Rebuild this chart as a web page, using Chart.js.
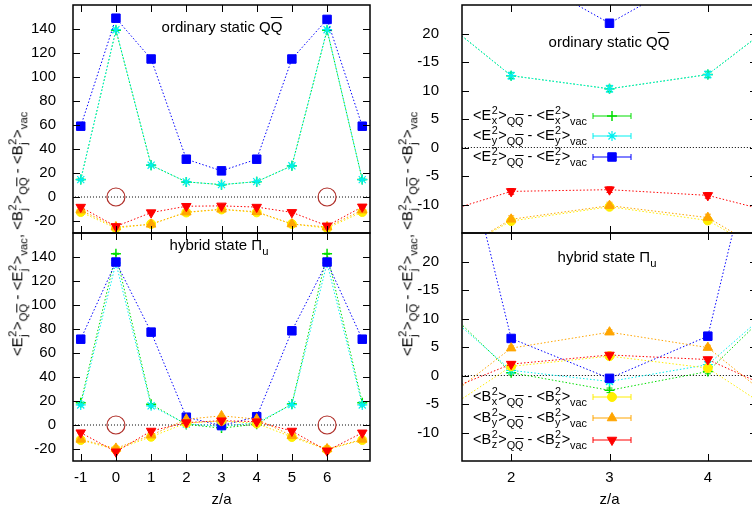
<!DOCTYPE html>
<html>
<head>
<meta charset="utf-8">
<script src="https://cdn.jsdelivr.net/npm/chart.js@4.4.1/dist/chart.umd.min.js"></script>
<style>
  html, body { margin: 0; padding: 0; background: #fff; overflow: hidden; }
  #page { position: relative; width: 752px; height: 511px; overflow: hidden;
          font-family: "Liberation Sans", Arial, sans-serif; color: #000; }
  canvas { position: absolute; }
  .txt { position: absolute; white-space: nowrap; font-size: 15px; line-height: 1.2; }
  .key { font-size: 14.5px; }
  .rot { transform: translate(-50%, -50%) rotate(-90deg); }
  .ctr { transform: translate(-50%, -50%); }
  .ss { display: inline-block; vertical-align: -0.4em; font-size: 0.75em; line-height: 0.95; margin: 0 0.5px; }
  .ss span { display: block; }
  sub { font-size: 0.75em; vertical-align: -0.45em; line-height: 0; }
  .ov { text-decoration: overline; }
</style>
</head>
<body>
<div id="page">
  <canvas id="tl" width="380" height="240" style="left:0;top:0"></canvas>
  <canvas id="bl" width="380" height="285" style="left:0;top:226px"></canvas>
  <canvas id="tr" width="380" height="240" style="left:380px;top:0"></canvas>
  <canvas id="br" width="380" height="285" style="left:380px;top:226px"></canvas>
</div>
<script>
// z/a positions shared by every series
const zValues = [-1, 0, 1, 2, 3, 4, 5, 6, 7];

// ordinary static QQbar
const ordEx = [14.5, 139, 26.5, 12.6, 10.3, 12.8, 26, 139, 14.5];
const ordEy = [14.5, 139.4, 26.5, 12.6, 10.3, 12.8, 26, 139.4, 14.5];
const ordEz = [59, 149, 115, 31.5, 21.8, 31.5, 115, 148, 59];
const ordBx = [-12.5, -26, -22.5, -12.9, -10.4, -12.8, -22.5, -26, -12.5];
const ordBy = [-11, -25, -22.8, -12.6, -10.2, -12.3, -22.5, -25, -11];
const ordBz = [-8.4, -24.5, -13, -7.7, -7.4, -8.4, -12.8, -24, -8.2];

// hybrid state Pi_u
const hybEx = [18.6, 142.7, 17.3, 0.5, -2.6, 0.7, 17.5, 142.7, 18.6];
const hybEy = [16.7, 135, 16, 0.9, -1.05, 1.9, 17, 135, 16.7];
const hybEz = [71.5, 135.8, 77.4, 6.5, -0.5, 6.9, 78.5, 135.8, 71.5];
const hybBx = [-12.5, -20.5, -9.8, 1.6, 3.4, 1.3, -10, -20.5, -12.5];
const hybBy = [-12, -19.5, -8.5, 4.8, 7.6, 4.9, -9, -20, -12];
const hybBz = [-6.4, -22.3, -5, 2.0, 3.6, 2.8, -5, -21.5, -6.5];

// error sizes per series: Ex, Ey, Ez, Bx, By, Bz
const ordErrors = [0.5, 0.6, 0.3, 0.5, 0.6, 0.5];
const hybErrors = [0.4, 0.4, 0.3, 0.4, 0.4, 0.4];

// circled points on the zero line
const circleZ = [0, 6];

// ticks
const leftXTicks = [-1, 0, 1, 2, 3, 4, 5, 6];
const rightXTicks = [2, 3, 4];
const leftYTicks = [-20, 0, 20, 40, 60, 80, 100, 120, 140];
const rightYTicks = [-10, -5, 0, 5, 10, 15, 20];
const rightYLabels = ['-10', '-5', '0', '5', '10', '-15', '20'];

// looks of the six series (same order as the value arrays)
const seriesStyles = [
  { color: '#00dd00', pointStyle: 'cross', radius: 5, width: 1.5, rotation: 0 },
  { color: '#00f0f0', pointStyle: 'star', radius: 5, width: 1.2, rotation: 0 },
  { color: '#0000ff', pointStyle: 'rect', radius: 6, width: 1, rotation: 0 },
  { color: '#ffee00', pointStyle: 'circle', radius: 4.5, width: 1, rotation: 0 },
  { color: '#ffa500', pointStyle: 'triangle', radius: 5.5, width: 1, rotation: 0 },
  { color: '#ff0000', pointStyle: 'triangle', radius: 5.5, width: 1, rotation: 180 }
];

const FONT = '"Liberation Sans", Arial, sans-serif';

function toPoints(values) {
  return zValues.map((z, i) => ({ x: z, y: values[i] }));
}

function buildDatasets(seriesList, errors) {
  const sets = seriesList.map((values, i) => {
    const s = seriesStyles[i];
    return {
      data: toPoints(values),
      errors: errors[i],
      borderColor: s.color,
      backgroundColor: s.color,
      borderWidth: 1,
      borderDash: [1.5, 2],
      pointStyle: s.pointStyle,
      pointRadius: s.radius,
      pointRotation: s.rotation,
      pointBorderWidth: s.width,
      pointBorderColor: s.color,
      pointBackgroundColor: s.color,
      order: 10 - i
    };
  });
  // dotted zero line
  sets.push({
    data: [{ x: -5, y: 0 }, { x: 12, y: 0 }],
    borderColor: '#000', borderWidth: 1, borderDash: [1, 2],
    pointRadius: 0, order: 50
  });
  // open circles
  sets.push({
    data: circleZ.map(z => ({ x: z, y: 0 })),
    showLine: false, pointStyle: 'circle', pointRadius: 9,
    pointBorderColor: '#b0302a', pointBackgroundColor: 'rgba(0,0,0,0)',
    pointBorderWidth: 1.2, order: 40
  });
  return sets;
}

// vertical error bars under the markers
const errorBars = {
  id: 'errorBars',
  beforeDatasetsDraw(chart) {
    const { ctx, chartArea: a, scales: { x, y } } = chart;
    ctx.save();
    ctx.beginPath();
    ctx.rect(a.left, a.top, a.right - a.left, a.bottom - a.top);
    ctx.clip();
    chart.data.datasets.forEach(ds => {
      if (!ds.errors) return;
      ctx.strokeStyle = ds.borderColor;
      ctx.lineWidth = 1;
      ctx.beginPath();
      ds.data.forEach(p => {
        const px = x.getPixelForValue(p.x);
        const y1 = y.getPixelForValue(p.y - ds.errors);
        const y2 = y.getPixelForValue(p.y + ds.errors);
        ctx.moveTo(px, y1); ctx.lineTo(px, y2);
        ctx.moveTo(px - 3, y1); ctx.lineTo(px + 3, y1);
        ctx.moveTo(px - 3, y2); ctx.lineTo(px + 3, y2);
      });
      ctx.stroke();
    });
    ctx.restore();
  }
};

// gnuplot style frame with inward ticks on all sides
const frameTicks = {
  id: 'frameTicks',
  afterDraw(chart) {
    const { ctx, chartArea: a, scales: { x, y } } = chart;
    const L = 7;
    ctx.save();
    ctx.strokeStyle = '#000';
    ctx.lineWidth = 1;
    ctx.beginPath();
    x.ticks.forEach(t => {
      const px = Math.round(x.getPixelForValue(t.value)) + 0.5;
      ctx.moveTo(px, a.bottom); ctx.lineTo(px, a.bottom - L);
      ctx.moveTo(px, a.top); ctx.lineTo(px, a.top + L);
    });
    y.ticks.forEach(t => {
      const py = Math.round(y.getPixelForValue(t.value)) + 0.5;
      ctx.moveTo(a.left, py); ctx.lineTo(a.left + L, py);
      ctx.moveTo(a.right, py); ctx.lineTo(a.right - L, py);
    });
    ctx.stroke();
    ctx.lineWidth = 1.5;
    ctx.strokeRect(a.left, a.top, a.right - a.left, a.bottom - a.top);
    ctx.restore();
  }
};

// key samples: horizontal error bar + marker
const keySamples = {
  id: 'keySamples',
  afterDatasetsDraw(chart, args, opts) {
    if (!opts.rows) return;
    const ctx = chart.ctx;
    ctx.save();
    opts.rows.forEach(row => {
      const s = seriesStyles[row.series];
      const xm = (opts.x1 + opts.x2) / 2;
      ctx.strokeStyle = s.color;
      ctx.fillStyle = s.color;
      ctx.lineWidth = 1;
      ctx.beginPath();
      ctx.moveTo(opts.x1, row.y); ctx.lineTo(opts.x2, row.y);
      ctx.moveTo(opts.x1, row.y - 3); ctx.lineTo(opts.x1, row.y + 3);
      ctx.moveTo(opts.x2, row.y - 3); ctx.lineTo(opts.x2, row.y + 3);
      ctx.stroke();
      ctx.lineWidth = s.width;
      Chart.helpers.drawPoint(ctx, {
        pointStyle: s.pointStyle, radius: s.radius, rotation: s.rotation, borderWidth: s.width
      }, xm, row.y);
    });
    ctx.restore();
  }
};

// drop the extra room Chart.js keeps for half tick labels
function noPadding(s) {
  s.paddingTop = 0; s.paddingBottom = 0; s.paddingLeft = 0; s.paddingRight = 0;
}

function makePanel(id, cfg) {
  return new Chart(document.getElementById(id), {
    type: 'line',
    data: { datasets: buildDatasets(cfg.series, cfg.errors) },
    plugins: [errorBars, frameTicks, keySamples],
    options: {
      responsive: false,
      animation: false,
      events: [],
      layout: { padding: cfg.padding, autoPadding: false },
      plugins: {
        legend: { display: false },
        tooltip: { enabled: false },
        keySamples: cfg.key || {}
      },
      scales: {
        x: {
          type: 'linear',
          min: cfg.xMin, max: cfg.xMax,
          afterBuildTicks: s => { s.ticks = cfg.xTicks.map(v => ({ value: v })); },
          afterFit: s => { s.height = cfg.xHeight; noPadding(s); },
          grid: { display: false },
          border: { display: false },
          ticks: {
            display: cfg.xLabels,
            padding: 0,
            color: '#000',
            font: { family: FONT, size: 15 },
            maxRotation: 0,
            callback: v => String(v)
          },
          title: {
            display: cfg.xLabels,
            text: 'z/a',
            color: '#000',
            font: { family: FONT, size: 15 },
            padding: { top: 0, bottom: 2 }
          }
        },
        y: {
          type: 'linear',
          min: cfg.yMin, max: cfg.yMax,
          afterBuildTicks: s => { s.ticks = cfg.yTicks.map(v => ({ value: v })); },
          afterFit: s => { s.width = cfg.yWidth; noPadding(s); },
          grid: { display: false },
          border: { display: false },
          ticks: {
            padding: cfg.yPad,
            color: '#000',
            font: { family: FONT, size: 15 },
            callback: (v, i) => cfg.yLabels[i]
          }
        }
      }
    }
  });
}

const ordSeries = [ordEx, ordEy, ordEz, ordBx, ordBy, ordBz];
const hybSeries = [hybEx, hybEy, hybEz, hybBx, hybBy, hybBz];
const leftYLabels = leftYTicks.map(String);

makePanel('tl', {
  series: ordSeries, errors: ordErrors,
  xMin: -1.22, xMax: 7.22, yMin: -30, yMax: 160,
  xTicks: leftXTicks, yTicks: leftYTicks, yLabels: leftYLabels,
  xLabels: false, xHeight: 0, yWidth: 73, yPad: 9,
  padding: { top: 5, right: 10, bottom: 7, left: 0 }
});
makePanel('bl', {
  series: hybSeries, errors: hybErrors,
  xMin: -1.22, xMax: 7.22, yMin: -30, yMax: 160,
  xTicks: leftXTicks, yTicks: leftYTicks, yLabels: leftYLabels,
  xLabels: true, xHeight: 50, yWidth: 73, yPad: 9,
  padding: { top: 7, right: 10, bottom: 0, left: 0 }
});
makePanel('tr', {
  series: ordSeries, errors: ordErrors,
  xMin: 1.5, xMax: 4.5, yMin: -15, yMax: 25,
  xTicks: rightXTicks, yTicks: rightYTicks, yLabels: rightYLabels,
  xLabels: false, xHeight: 0, yWidth: 82, yPad: 15,
  padding: { top: 5, right: 3, bottom: 7, left: 0 },
  key: { x1: 213, x2: 251, rows: [{ series: 0, y: 116 }, { series: 1, y: 136 }, { series: 2, y: 157 }] }
});
makePanel('br', {
  series: hybSeries, errors: hybErrors,
  xMin: 1.5, xMax: 4.5, yMin: -15, yMax: 25,
  xTicks: rightXTicks, yTicks: rightYTicks, yLabels: rightYLabels,
  xLabels: true, xHeight: 50, yWidth: 82, yPad: 15,
  padding: { top: 7, right: 3, bottom: 0, left: 0 },
  key: { x1: 213, x2: 251, rows: [{ series: 3, y: 171 }, { series: 4, y: 192 }, { series: 5, y: 214 }] }
});

// text overlays: axis titles, panel names, key labels
const QQ = 'Q<span class="ov">Q</span>';
function term(f, c) {
  return `&lt;${f}<span class="ss"><span>2</span><span>${c}</span></span>&gt;`;
}
function diff(f, c) {
  return `${term(f, c)}<sub>${QQ}</sub> - ${term(f, c)}<sub>vac</sub>`;
}

function addText(html, x, y, cls) {
  const d = document.createElement('div');
  d.className = 'txt ' + cls;
  d.style.left = x + 'px';
  d.style.top = y + 'px';
  d.innerHTML = html;
  document.getElementById('page').appendChild(d);
}

const yTitle = `${diff('E', 'j')}, ${diff('B', 'j')}`;
addText(yTitle, 18, 234, 'rot');
addText(yTitle, 408, 234, 'rot');

addText(`ordinary static ${QQ}`, 222, 27, 'ctr');
addText(`ordinary static ${QQ}`, 609, 42, 'ctr');
addText('hybrid state &Pi;<sub>u</sub>', 219, 245, 'ctr');
addText('hybrid state &Pi;<sub>u</sub>', 607, 257, 'ctr');

const keyRowsE = [116, 136, 157];
const keyRowsB = [397, 418, 440];
const comps = ['x', 'y', 'z'];
keyRowsE.forEach((y, i) => addText(diff('E', comps[i]), 473, y - 11, 'key'));
keyRowsB.forEach((y, i) => addText(diff('B', comps[i]), 473, y - 11, 'key'));
</script>
</body>
</html>
